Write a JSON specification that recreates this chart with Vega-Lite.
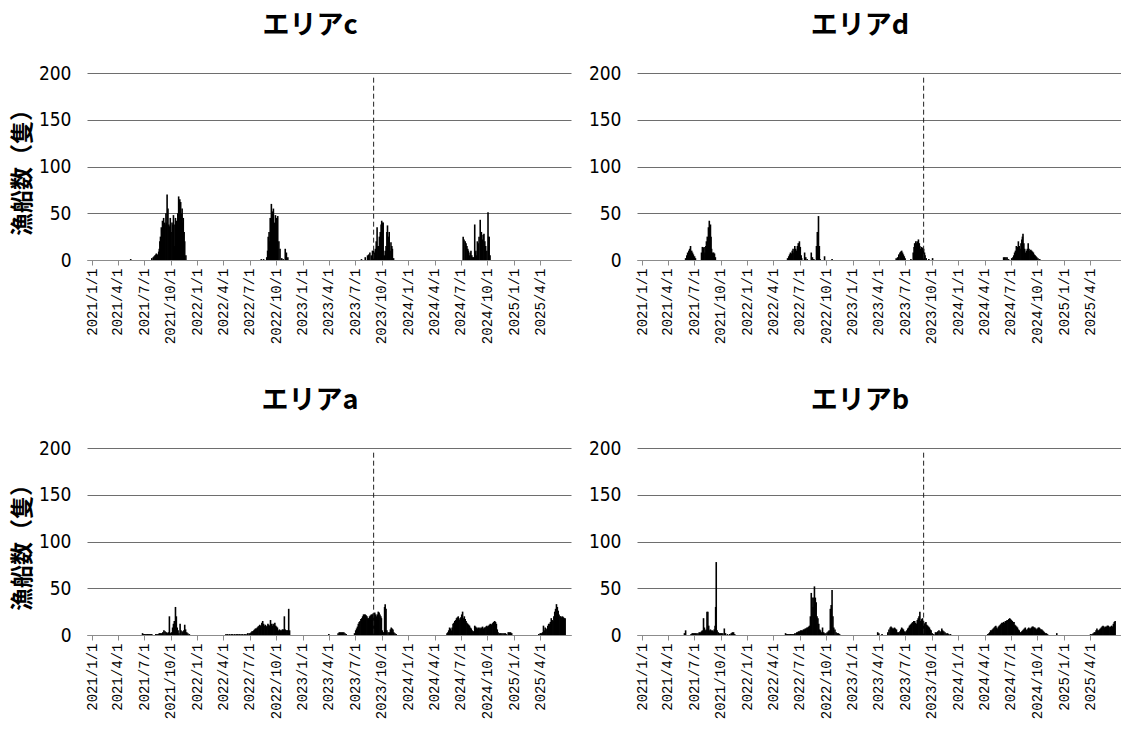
{
"$schema": "https://vega.github.io/schema/vega-lite/v6.json",
"padding": {"left": 11, "top": 12, "right": 0, "bottom": 0},
"background": "white",
"datasets": {
"ships": [
{"a":"c","d":"2021-05-15","n":1},{"a":"c","d":"2021-07-27","n":2},{"a":"c","d":"2021-08-01","n":3},{"a":"c","d":"2021-08-04","n":4},{"a":"c","d":"2021-08-07","n":5},{"a":"c","d":"2021-08-10","n":6},{"a":"c","d":"2021-08-12","n":7},{"a":"c","d":"2021-08-15","n":6},{"a":"c","d":"2021-08-18","n":5},{"a":"c","d":"2021-08-20","n":9},{"a":"c","d":"2021-08-22","n":12},{"a":"c","d":"2021-08-24","n":20},{"a":"c","d":"2021-08-26","n":25},{"a":"c","d":"2021-08-29","n":35},{"a":"c","d":"2021-08-31","n":30},{"a":"c","d":"2021-09-02","n":42},{"a":"c","d":"2021-09-04","n":38},{"a":"c","d":"2021-09-06","n":45},{"a":"c","d":"2021-09-09","n":40},{"a":"c","d":"2021-09-11","n":38},{"a":"c","d":"2021-09-14","n":50},{"a":"c","d":"2021-09-16","n":40},{"a":"c","d":"2021-09-18","n":70},{"a":"c","d":"2021-09-21","n":55},{"a":"c","d":"2021-09-24","n":38},{"a":"c","d":"2021-09-27","n":36},{"a":"c","d":"2021-09-29","n":45},{"a":"c","d":"2021-10-02","n":30},{"a":"c","d":"2021-10-05","n":40},{"a":"c","d":"2021-10-08","n":38},{"a":"c","d":"2021-10-10","n":48},{"a":"c","d":"2021-10-13","n":15},{"a":"c","d":"2021-10-15","n":38},{"a":"c","d":"2021-10-17","n":45},{"a":"c","d":"2021-10-19","n":36},{"a":"c","d":"2021-10-21","n":42},{"a":"c","d":"2021-10-23","n":35},{"a":"c","d":"2021-10-25","n":50},{"a":"c","d":"2021-10-28","n":68},{"a":"c","d":"2021-10-30","n":45},{"a":"c","d":"2021-11-01","n":65},{"a":"c","d":"2021-11-04","n":62},{"a":"c","d":"2021-11-07","n":50},{"a":"c","d":"2021-11-09","n":55},{"a":"c","d":"2021-11-11","n":40},{"a":"c","d":"2021-11-13","n":45},{"a":"c","d":"2021-11-16","n":30},{"a":"c","d":"2021-11-18","n":20},{"a":"c","d":"2021-11-22","n":5},
{"a":"c","d":"2022-08-10","n":1},{"a":"c","d":"2022-08-18","n":1},{"a":"c","d":"2022-08-29","n":3},{"a":"c","d":"2022-09-01","n":10},{"a":"c","d":"2022-09-03","n":25},{"a":"c","d":"2022-09-06","n":30},{"a":"c","d":"2022-09-08","n":20},{"a":"c","d":"2022-09-10","n":45},{"a":"c","d":"2022-09-12","n":30},{"a":"c","d":"2022-09-14","n":60},{"a":"c","d":"2022-09-17","n":52},{"a":"c","d":"2022-09-19","n":35},{"a":"c","d":"2022-09-21","n":55},{"a":"c","d":"2022-09-24","n":40},{"a":"c","d":"2022-09-26","n":30},{"a":"c","d":"2022-09-28","n":48},{"a":"c","d":"2022-10-02","n":45},{"a":"c","d":"2022-10-04","n":30},{"a":"c","d":"2022-10-06","n":47},{"a":"c","d":"2022-10-10","n":20},{"a":"c","d":"2022-10-14","n":12},{"a":"c","d":"2022-10-20","n":2},{"a":"c","d":"2022-10-25","n":1},{"a":"c","d":"2022-11-01","n":12},{"a":"c","d":"2022-11-05","n":8},{"a":"c","d":"2022-11-10","n":3},
{"a":"c","d":"2023-07-23","n":1},{"a":"c","d":"2023-08-05","n":3},{"a":"c","d":"2023-08-13","n":5},{"a":"c","d":"2023-08-17","n":6},{"a":"c","d":"2023-08-21","n":8},{"a":"c","d":"2023-08-26","n":5},{"a":"c","d":"2023-08-30","n":10},{"a":"c","d":"2023-09-03","n":10},{"a":"c","d":"2023-09-06","n":8},{"a":"c","d":"2023-09-09","n":12},{"a":"c","d":"2023-09-12","n":20},{"a":"c","d":"2023-09-15","n":35},{"a":"c","d":"2023-09-18","n":15},{"a":"c","d":"2023-09-20","n":15},{"a":"c","d":"2023-09-23","n":25},{"a":"c","d":"2023-09-26","n":30},{"a":"c","d":"2023-09-29","n":38},{"a":"c","d":"2023-10-01","n":42},{"a":"c","d":"2023-10-04","n":40},{"a":"c","d":"2023-10-06","n":40},{"a":"c","d":"2023-10-10","n":5},{"a":"c","d":"2023-10-13","n":10},{"a":"c","d":"2023-10-16","n":15},{"a":"c","d":"2023-10-19","n":30},{"a":"c","d":"2023-10-21","n":37},{"a":"c","d":"2023-10-24","n":25},{"a":"c","d":"2023-10-27","n":30},{"a":"c","d":"2023-10-30","n":10},{"a":"c","d":"2023-11-02","n":19},{"a":"c","d":"2023-11-05","n":15},{"a":"c","d":"2023-11-07","n":12},{"a":"c","d":"2023-11-11","n":2},
{"a":"c","d":"2024-07-09","n":25},{"a":"c","d":"2024-07-12","n":22},{"a":"c","d":"2024-07-16","n":20},{"a":"c","d":"2024-07-19","n":18},{"a":"c","d":"2024-07-22","n":15},{"a":"c","d":"2024-07-25","n":12},{"a":"c","d":"2024-07-27","n":10},{"a":"c","d":"2024-07-30","n":5},{"a":"c","d":"2024-08-02","n":8},{"a":"c","d":"2024-08-05","n":10},{"a":"c","d":"2024-08-08","n":5},{"a":"c","d":"2024-08-11","n":3},{"a":"c","d":"2024-08-14","n":3},{"a":"c","d":"2024-08-18","n":38},{"a":"c","d":"2024-08-20","n":8},{"a":"c","d":"2024-08-22","n":10},{"a":"c","d":"2024-08-25","n":5},{"a":"c","d":"2024-08-27","n":20},{"a":"c","d":"2024-08-30","n":18},{"a":"c","d":"2024-09-02","n":25},{"a":"c","d":"2024-09-06","n":43},{"a":"c","d":"2024-09-08","n":20},{"a":"c","d":"2024-09-10","n":30},{"a":"c","d":"2024-09-13","n":22},{"a":"c","d":"2024-09-16","n":27},{"a":"c","d":"2024-09-19","n":28},{"a":"c","d":"2024-09-22","n":20},{"a":"c","d":"2024-09-25","n":15},{"a":"c","d":"2024-09-29","n":10},{"a":"c","d":"2024-10-03","n":51},{"a":"c","d":"2024-10-05","n":25},{"a":"c","d":"2024-10-07","n":25},{"a":"c","d":"2024-10-10","n":5},
{"a":"d","d":"2021-06-01","n":2},{"a":"d","d":"2021-06-05","n":5},{"a":"d","d":"2021-06-08","n":8},{"a":"d","d":"2021-06-12","n":10},{"a":"d","d":"2021-06-15","n":12},{"a":"d","d":"2021-06-18","n":15},{"a":"d","d":"2021-06-22","n":10},{"a":"d","d":"2021-06-25","n":8},{"a":"d","d":"2021-06-28","n":6},{"a":"d","d":"2021-07-02","n":4},{"a":"d","d":"2021-07-05","n":2},{"a":"d","d":"2021-07-26","n":8},{"a":"d","d":"2021-07-29","n":14},{"a":"d","d":"2021-08-01","n":13},{"a":"d","d":"2021-08-04","n":14},{"a":"d","d":"2021-08-07","n":8},{"a":"d","d":"2021-08-10","n":15},{"a":"d","d":"2021-08-12","n":20},{"a":"d","d":"2021-08-15","n":25},{"a":"d","d":"2021-08-19","n":35},{"a":"d","d":"2021-08-22","n":42},{"a":"d","d":"2021-08-24","n":30},{"a":"d","d":"2021-08-26","n":38},{"a":"d","d":"2021-08-28","n":25},{"a":"d","d":"2021-08-30","n":12},{"a":"d","d":"2021-09-03","n":8},{"a":"d","d":"2021-09-06","n":8},{"a":"d","d":"2021-09-09","n":7},{"a":"d","d":"2021-09-12","n":3},
{"a":"d","d":"2022-05-20","n":2},{"a":"d","d":"2022-05-24","n":4},{"a":"d","d":"2022-05-27","n":6},{"a":"d","d":"2022-05-30","n":8},{"a":"d","d":"2022-06-02","n":7},{"a":"d","d":"2022-06-05","n":10},{"a":"d","d":"2022-06-08","n":12},{"a":"d","d":"2022-06-11","n":8},{"a":"d","d":"2022-06-14","n":15},{"a":"d","d":"2022-06-17","n":12},{"a":"d","d":"2022-06-20","n":10},{"a":"d","d":"2022-06-23","n":15},{"a":"d","d":"2022-06-26","n":18},{"a":"d","d":"2022-06-30","n":20},{"a":"d","d":"2022-07-03","n":14},{"a":"d","d":"2022-07-06","n":5},{"a":"d","d":"2022-07-08","n":2},{"a":"d","d":"2022-07-18","n":8},{"a":"d","d":"2022-07-22","n":3},{"a":"d","d":"2022-07-27","n":1},{"a":"d","d":"2022-08-10","n":8},{"a":"d","d":"2022-08-14","n":3},{"a":"d","d":"2022-08-19","n":1},{"a":"d","d":"2022-08-28","n":15},{"a":"d","d":"2022-08-31","n":30},{"a":"d","d":"2022-09-04","n":47},{"a":"d","d":"2022-09-07","n":15},{"a":"d","d":"2022-09-10","n":1},{"a":"d","d":"2022-09-25","n":4},{"a":"d","d":"2022-10-21","n":1},
{"a":"d","d":"2023-05-31","n":2},{"a":"d","d":"2023-06-05","n":3},{"a":"d","d":"2023-06-09","n":6},{"a":"d","d":"2023-06-13","n":8},{"a":"d","d":"2023-06-16","n":9},{"a":"d","d":"2023-06-19","n":10},{"a":"d","d":"2023-06-22","n":8},{"a":"d","d":"2023-06-25","n":6},{"a":"d","d":"2023-06-28","n":4},{"a":"d","d":"2023-07-01","n":2},{"a":"d","d":"2023-07-21","n":1},{"a":"d","d":"2023-07-29","n":8},{"a":"d","d":"2023-08-01","n":14},{"a":"d","d":"2023-08-03","n":18},{"a":"d","d":"2023-08-05","n":15},{"a":"d","d":"2023-08-07","n":20},{"a":"d","d":"2023-08-10","n":18},{"a":"d","d":"2023-08-12","n":20},{"a":"d","d":"2023-08-14","n":17},{"a":"d","d":"2023-08-16","n":22},{"a":"d","d":"2023-08-19","n":18},{"a":"d","d":"2023-08-21","n":15},{"a":"d","d":"2023-08-24","n":12},{"a":"d","d":"2023-08-27","n":14},{"a":"d","d":"2023-08-30","n":13},{"a":"d","d":"2023-09-03","n":12},{"a":"d","d":"2023-09-06","n":8},{"a":"d","d":"2023-09-08","n":5},{"a":"d","d":"2023-09-12","n":2},{"a":"d","d":"2023-09-21","n":1},{"a":"d","d":"2023-10-04","n":2},
{"a":"d","d":"2024-06-06","n":3},{"a":"d","d":"2024-06-10","n":3},{"a":"d","d":"2024-06-14","n":3},{"a":"d","d":"2024-06-18","n":3},{"a":"d","d":"2024-06-23","n":1},{"a":"d","d":"2024-07-04","n":2},{"a":"d","d":"2024-07-08","n":3},{"a":"d","d":"2024-07-11","n":5},{"a":"d","d":"2024-07-14","n":8},{"a":"d","d":"2024-07-17","n":10},{"a":"d","d":"2024-07-20","n":15},{"a":"d","d":"2024-07-24","n":14},{"a":"d","d":"2024-07-27","n":20},{"a":"d","d":"2024-07-30","n":15},{"a":"d","d":"2024-08-02","n":12},{"a":"d","d":"2024-08-05","n":18},{"a":"d","d":"2024-08-08","n":22},{"a":"d","d":"2024-08-10","n":25},{"a":"d","d":"2024-08-12","n":28},{"a":"d","d":"2024-08-15","n":18},{"a":"d","d":"2024-08-18","n":12},{"a":"d","d":"2024-08-21","n":8},{"a":"d","d":"2024-08-24","n":10},{"a":"d","d":"2024-08-27","n":12},{"a":"d","d":"2024-08-30","n":18},{"a":"d","d":"2024-09-02","n":12},{"a":"d","d":"2024-09-05","n":10},{"a":"d","d":"2024-09-08","n":11},{"a":"d","d":"2024-09-11","n":10},{"a":"d","d":"2024-09-14","n":9},{"a":"d","d":"2024-09-17","n":8},{"a":"d","d":"2024-09-20","n":6},{"a":"d","d":"2024-09-23","n":5},{"a":"d","d":"2024-09-26","n":4},{"a":"d","d":"2024-09-29","n":3},{"a":"d","d":"2024-10-03","n":2},{"a":"d","d":"2024-10-09","n":1},
{"a":"a","d":"2021-06-25","n":2},{"a":"a","d":"2021-06-29","n":1},{"a":"a","d":"2021-07-03","n":1},{"a":"a","d":"2021-07-07","n":1},{"a":"a","d":"2021-07-11","n":1},{"a":"a","d":"2021-07-15","n":1},{"a":"a","d":"2021-07-19","n":1},{"a":"a","d":"2021-07-23","n":1},{"a":"a","d":"2021-07-27","n":1},{"a":"a","d":"2021-08-10","n":1},{"a":"a","d":"2021-08-14","n":1},{"a":"a","d":"2021-08-18","n":1},{"a":"a","d":"2021-08-22","n":2},{"a":"a","d":"2021-08-26","n":2},{"a":"a","d":"2021-08-30","n":2},{"a":"a","d":"2021-09-03","n":3},{"a":"a","d":"2021-09-07","n":5},{"a":"a","d":"2021-09-11","n":4},{"a":"a","d":"2021-09-15","n":3},{"a":"a","d":"2021-09-19","n":2},{"a":"a","d":"2021-09-22","n":3},{"a":"a","d":"2021-09-26","n":20},{"a":"a","d":"2021-09-29","n":2},{"a":"a","d":"2021-10-03","n":3},{"a":"a","d":"2021-10-07","n":8},{"a":"a","d":"2021-10-10","n":12},{"a":"a","d":"2021-10-13","n":15},{"a":"a","d":"2021-10-17","n":30},{"a":"a","d":"2021-10-20","n":20},{"a":"a","d":"2021-10-23","n":8},{"a":"a","d":"2021-10-26","n":5},{"a":"a","d":"2021-10-29","n":2},{"a":"a","d":"2021-11-02","n":12},{"a":"a","d":"2021-11-05","n":5},{"a":"a","d":"2021-11-09","n":4},{"a":"a","d":"2021-11-12","n":3},{"a":"a","d":"2021-11-15","n":5},{"a":"a","d":"2021-11-18","n":11},{"a":"a","d":"2021-11-21","n":6},{"a":"a","d":"2021-11-25","n":3},{"a":"a","d":"2021-11-29","n":2},{"a":"a","d":"2021-12-04","n":1},
{"a":"a","d":"2022-04-10","n":1},{"a":"a","d":"2022-04-16","n":1},{"a":"a","d":"2022-04-22","n":1},{"a":"a","d":"2022-04-28","n":1},{"a":"a","d":"2022-05-03","n":1},{"a":"a","d":"2022-05-09","n":1},{"a":"a","d":"2022-05-15","n":1},{"a":"a","d":"2022-05-21","n":1},{"a":"a","d":"2022-05-26","n":1},{"a":"a","d":"2022-06-01","n":1},{"a":"a","d":"2022-06-07","n":1},{"a":"a","d":"2022-06-13","n":1},{"a":"a","d":"2022-06-18","n":1},{"a":"a","d":"2022-06-24","n":2},{"a":"a","d":"2022-06-29","n":2},{"a":"a","d":"2022-07-03","n":2},{"a":"a","d":"2022-07-06","n":3},{"a":"a","d":"2022-07-09","n":4},{"a":"a","d":"2022-07-12","n":4},{"a":"a","d":"2022-07-15","n":5},{"a":"a","d":"2022-07-18","n":6},{"a":"a","d":"2022-07-21","n":7},{"a":"a","d":"2022-07-24","n":7},{"a":"a","d":"2022-07-27","n":8},{"a":"a","d":"2022-07-30","n":9},{"a":"a","d":"2022-08-02","n":10},{"a":"a","d":"2022-08-05","n":11},{"a":"a","d":"2022-08-08","n":10},{"a":"a","d":"2022-08-12","n":13},{"a":"a","d":"2022-08-15","n":15},{"a":"a","d":"2022-08-18","n":12},{"a":"a","d":"2022-08-20","n":10},{"a":"a","d":"2022-08-24","n":11},{"a":"a","d":"2022-08-27","n":9},{"a":"a","d":"2022-08-30","n":10},{"a":"a","d":"2022-09-02","n":12},{"a":"a","d":"2022-09-05","n":11},{"a":"a","d":"2022-09-08","n":10},{"a":"a","d":"2022-09-11","n":16},{"a":"a","d":"2022-09-14","n":12},{"a":"a","d":"2022-09-17","n":10},{"a":"a","d":"2022-09-20","n":12},{"a":"a","d":"2022-09-23","n":11},{"a":"a","d":"2022-09-26","n":13},{"a":"a","d":"2022-09-29","n":10},{"a":"a","d":"2022-10-02","n":9},{"a":"a","d":"2022-10-05","n":8},{"a":"a","d":"2022-10-08","n":5},{"a":"a","d":"2022-10-12","n":6},{"a":"a","d":"2022-10-15","n":5},{"a":"a","d":"2022-10-18","n":5},{"a":"a","d":"2022-10-22","n":6},{"a":"a","d":"2022-10-25","n":6},{"a":"a","d":"2022-10-29","n":20},{"a":"a","d":"2022-11-01","n":6},{"a":"a","d":"2022-11-04","n":5},{"a":"a","d":"2022-11-07","n":5},{"a":"a","d":"2022-11-10","n":5},{"a":"a","d":"2022-11-13","n":28},{"a":"a","d":"2022-11-16","n":5},
{"a":"a","d":"2023-04-01","n":1},{"a":"a","d":"2023-05-03","n":2},{"a":"a","d":"2023-05-07","n":3},{"a":"a","d":"2023-05-11","n":3},{"a":"a","d":"2023-05-15","n":3},{"a":"a","d":"2023-05-19","n":3},{"a":"a","d":"2023-05-23","n":3},{"a":"a","d":"2023-05-27","n":2},{"a":"a","d":"2023-05-31","n":1},{"a":"a","d":"2023-06-29","n":2},{"a":"a","d":"2023-07-03","n":5},{"a":"a","d":"2023-07-06","n":7},{"a":"a","d":"2023-07-09","n":9},{"a":"a","d":"2023-07-12","n":12},{"a":"a","d":"2023-07-15","n":14},{"a":"a","d":"2023-07-18","n":15},{"a":"a","d":"2023-07-21","n":17},{"a":"a","d":"2023-07-24","n":18},{"a":"a","d":"2023-07-27","n":20},{"a":"a","d":"2023-07-30","n":22},{"a":"a","d":"2023-08-02","n":22},{"a":"a","d":"2023-08-05","n":22},{"a":"a","d":"2023-08-08","n":21},{"a":"a","d":"2023-08-11","n":20},{"a":"a","d":"2023-08-14","n":18},{"a":"a","d":"2023-08-17","n":18},{"a":"a","d":"2023-08-20","n":20},{"a":"a","d":"2023-08-23","n":21},{"a":"a","d":"2023-08-26","n":22},{"a":"a","d":"2023-08-29","n":22},{"a":"a","d":"2023-09-01","n":23},{"a":"a","d":"2023-09-04","n":22},{"a":"a","d":"2023-09-07","n":24},{"a":"a","d":"2023-09-10","n":22},{"a":"a","d":"2023-09-13","n":20},{"a":"a","d":"2023-09-16","n":22},{"a":"a","d":"2023-09-19","n":25},{"a":"a","d":"2023-09-22","n":24},{"a":"a","d":"2023-09-25","n":22},{"a":"a","d":"2023-09-28","n":20},{"a":"a","d":"2023-09-30","n":18},{"a":"a","d":"2023-10-03","n":5},{"a":"a","d":"2023-10-06","n":3},{"a":"a","d":"2023-10-09","n":3},{"a":"a","d":"2023-10-11","n":30},{"a":"a","d":"2023-10-13","n":33},{"a":"a","d":"2023-10-16","n":28},{"a":"a","d":"2023-10-19","n":5},{"a":"a","d":"2023-10-23","n":3},{"a":"a","d":"2023-10-27","n":3},{"a":"a","d":"2023-10-31","n":6},{"a":"a","d":"2023-11-03","n":8},{"a":"a","d":"2023-11-06","n":7},{"a":"a","d":"2023-11-09","n":6},{"a":"a","d":"2023-11-12","n":3},{"a":"a","d":"2023-11-16","n":2},{"a":"a","d":"2023-11-20","n":1},
{"a":"a","d":"2024-05-14","n":2},{"a":"a","d":"2024-05-17","n":3},{"a":"a","d":"2024-05-20","n":5},{"a":"a","d":"2024-05-23","n":8},{"a":"a","d":"2024-05-26","n":7},{"a":"a","d":"2024-05-29","n":5},{"a":"a","d":"2024-06-01","n":8},{"a":"a","d":"2024-06-04","n":12},{"a":"a","d":"2024-06-07","n":13},{"a":"a","d":"2024-06-10","n":15},{"a":"a","d":"2024-06-13","n":16},{"a":"a","d":"2024-06-16","n":18},{"a":"a","d":"2024-06-19","n":19},{"a":"a","d":"2024-06-22","n":20},{"a":"a","d":"2024-06-25","n":16},{"a":"a","d":"2024-06-28","n":18},{"a":"a","d":"2024-07-01","n":19},{"a":"a","d":"2024-07-04","n":22},{"a":"a","d":"2024-07-07","n":25},{"a":"a","d":"2024-07-10","n":18},{"a":"a","d":"2024-07-13","n":20},{"a":"a","d":"2024-07-16","n":17},{"a":"a","d":"2024-07-19","n":15},{"a":"a","d":"2024-07-22","n":13},{"a":"a","d":"2024-07-25","n":12},{"a":"a","d":"2024-07-28","n":11},{"a":"a","d":"2024-07-31","n":10},{"a":"a","d":"2024-08-03","n":8},{"a":"a","d":"2024-08-06","n":7},{"a":"a","d":"2024-08-09","n":5},{"a":"a","d":"2024-08-12","n":4},{"a":"a","d":"2024-08-15","n":4},{"a":"a","d":"2024-08-18","n":10},{"a":"a","d":"2024-08-21","n":9},{"a":"a","d":"2024-08-24","n":8},{"a":"a","d":"2024-08-27","n":7},{"a":"a","d":"2024-08-30","n":8},{"a":"a","d":"2024-09-02","n":7},{"a":"a","d":"2024-09-05","n":8},{"a":"a","d":"2024-09-08","n":7},{"a":"a","d":"2024-09-11","n":8},{"a":"a","d":"2024-09-14","n":9},{"a":"a","d":"2024-09-17","n":7},{"a":"a","d":"2024-09-20","n":8},{"a":"a","d":"2024-09-23","n":8},{"a":"a","d":"2024-09-26","n":9},{"a":"a","d":"2024-09-29","n":10},{"a":"a","d":"2024-10-02","n":9},{"a":"a","d":"2024-10-05","n":10},{"a":"a","d":"2024-10-08","n":11},{"a":"a","d":"2024-10-11","n":12},{"a":"a","d":"2024-10-14","n":11},{"a":"a","d":"2024-10-17","n":12},{"a":"a","d":"2024-10-20","n":13},{"a":"a","d":"2024-10-23","n":14},{"a":"a","d":"2024-10-26","n":15},{"a":"a","d":"2024-10-29","n":14},{"a":"a","d":"2024-11-01","n":12},{"a":"a","d":"2024-11-04","n":6},{"a":"a","d":"2024-11-07","n":3},{"a":"a","d":"2024-11-12","n":2},{"a":"a","d":"2024-11-16","n":2},{"a":"a","d":"2024-11-20","n":2},{"a":"a","d":"2024-11-24","n":2},{"a":"a","d":"2024-11-28","n":2},{"a":"a","d":"2024-12-02","n":2},{"a":"a","d":"2024-12-06","n":1},{"a":"a","d":"2024-12-12","n":3},{"a":"a","d":"2024-12-16","n":3},{"a":"a","d":"2024-12-20","n":3},{"a":"a","d":"2024-12-24","n":2},
{"a":"a","d":"2025-03-28","n":1},{"a":"a","d":"2025-04-02","n":2},{"a":"a","d":"2025-04-06","n":2},{"a":"a","d":"2025-04-10","n":3},{"a":"a","d":"2025-04-13","n":10},{"a":"a","d":"2025-04-16","n":5},{"a":"a","d":"2025-04-19","n":8},{"a":"a","d":"2025-04-22","n":6},{"a":"a","d":"2025-04-25","n":7},{"a":"a","d":"2025-04-28","n":10},{"a":"a","d":"2025-05-01","n":12},{"a":"a","d":"2025-05-04","n":12},{"a":"a","d":"2025-05-07","n":14},{"a":"a","d":"2025-05-10","n":18},{"a":"a","d":"2025-05-13","n":16},{"a":"a","d":"2025-05-16","n":15},{"a":"a","d":"2025-05-19","n":20},{"a":"a","d":"2025-05-22","n":25},{"a":"a","d":"2025-05-25","n":28},{"a":"a","d":"2025-05-28","n":33},{"a":"a","d":"2025-05-31","n":30},{"a":"a","d":"2025-06-03","n":26},{"a":"a","d":"2025-06-06","n":22},{"a":"a","d":"2025-06-09","n":20},{"a":"a","d":"2025-06-12","n":20},{"a":"a","d":"2025-06-15","n":19},{"a":"a","d":"2025-06-18","n":20},{"a":"a","d":"2025-06-21","n":19},{"a":"a","d":"2025-06-24","n":18},{"a":"a","d":"2025-06-27","n":18},
{"a":"b","d":"2021-05-28","n":2},{"a":"b","d":"2021-06-01","n":5},{"a":"b","d":"2021-06-20","n":1},{"a":"b","d":"2021-06-24","n":2},{"a":"b","d":"2021-06-28","n":2},{"a":"b","d":"2021-07-02","n":2},{"a":"b","d":"2021-07-06","n":2},{"a":"b","d":"2021-07-10","n":2},{"a":"b","d":"2021-07-14","n":2},{"a":"b","d":"2021-07-18","n":3},{"a":"b","d":"2021-07-22","n":3},{"a":"b","d":"2021-07-26","n":4},{"a":"b","d":"2021-07-29","n":5},{"a":"b","d":"2021-08-02","n":18},{"a":"b","d":"2021-08-05","n":8},{"a":"b","d":"2021-08-08","n":5},{"a":"b","d":"2021-08-11","n":6},{"a":"b","d":"2021-08-14","n":25},{"a":"b","d":"2021-08-17","n":25},{"a":"b","d":"2021-08-20","n":10},{"a":"b","d":"2021-08-23","n":5},{"a":"b","d":"2021-08-26","n":6},{"a":"b","d":"2021-08-29","n":5},{"a":"b","d":"2021-09-02","n":5},{"a":"b","d":"2021-09-05","n":4},{"a":"b","d":"2021-09-08","n":6},{"a":"b","d":"2021-09-11","n":10},{"a":"b","d":"2021-09-13","n":30},{"a":"b","d":"2021-09-15","n":78},{"a":"b","d":"2021-09-18","n":5},{"a":"b","d":"2021-09-22","n":3},{"a":"b","d":"2021-09-26","n":2},{"a":"b","d":"2021-09-30","n":2},{"a":"b","d":"2021-10-04","n":2},{"a":"b","d":"2021-10-08","n":2},{"a":"b","d":"2021-10-13","n":7},{"a":"b","d":"2021-10-17","n":2},{"a":"b","d":"2021-10-24","n":1},{"a":"b","d":"2021-11-01","n":1},{"a":"b","d":"2021-11-06","n":2},{"a":"b","d":"2021-11-10","n":3},{"a":"b","d":"2021-11-14","n":3},{"a":"b","d":"2021-11-18","n":1},
{"a":"b","d":"2022-05-13","n":2},{"a":"b","d":"2022-05-17","n":1},{"a":"b","d":"2022-05-21","n":1},{"a":"b","d":"2022-05-25","n":1},{"a":"b","d":"2022-05-29","n":1},{"a":"b","d":"2022-06-02","n":1},{"a":"b","d":"2022-06-06","n":1},{"a":"b","d":"2022-06-10","n":1},{"a":"b","d":"2022-06-14","n":2},{"a":"b","d":"2022-06-18","n":2},{"a":"b","d":"2022-06-21","n":3},{"a":"b","d":"2022-06-24","n":3},{"a":"b","d":"2022-06-27","n":4},{"a":"b","d":"2022-07-01","n":4},{"a":"b","d":"2022-07-04","n":5},{"a":"b","d":"2022-07-07","n":5},{"a":"b","d":"2022-07-10","n":5},{"a":"b","d":"2022-07-14","n":6},{"a":"b","d":"2022-07-17","n":6},{"a":"b","d":"2022-07-20","n":7},{"a":"b","d":"2022-07-23","n":7},{"a":"b","d":"2022-07-26","n":8},{"a":"b","d":"2022-07-29","n":8},{"a":"b","d":"2022-08-01","n":9},{"a":"b","d":"2022-08-04","n":10},{"a":"b","d":"2022-08-07","n":20},{"a":"b","d":"2022-08-10","n":45},{"a":"b","d":"2022-08-13","n":40},{"a":"b","d":"2022-08-16","n":30},{"a":"b","d":"2022-08-19","n":40},{"a":"b","d":"2022-08-21","n":52},{"a":"b","d":"2022-08-24","n":40},{"a":"b","d":"2022-08-27","n":35},{"a":"b","d":"2022-08-30","n":20},{"a":"b","d":"2022-09-02","n":18},{"a":"b","d":"2022-09-05","n":12},{"a":"b","d":"2022-09-08","n":6},{"a":"b","d":"2022-09-11","n":5},{"a":"b","d":"2022-09-14","n":3},{"a":"b","d":"2022-09-18","n":8},{"a":"b","d":"2022-09-22","n":3},{"a":"b","d":"2022-09-26","n":2},{"a":"b","d":"2022-09-30","n":2},{"a":"b","d":"2022-10-04","n":3},{"a":"b","d":"2022-10-08","n":4},{"a":"b","d":"2022-10-11","n":5},{"a":"b","d":"2022-10-15","n":28},{"a":"b","d":"2022-10-18","n":32},{"a":"b","d":"2022-10-21","n":48},{"a":"b","d":"2022-10-24","n":20},{"a":"b","d":"2022-10-27","n":8},{"a":"b","d":"2022-10-31","n":6},{"a":"b","d":"2022-11-04","n":3},{"a":"b","d":"2022-11-08","n":2},{"a":"b","d":"2022-11-12","n":2},{"a":"b","d":"2022-11-16","n":1},
{"a":"b","d":"2023-03-28","n":3},{"a":"b","d":"2023-04-01","n":2},{"a":"b","d":"2023-04-12","n":1},{"a":"b","d":"2023-05-02","n":3},{"a":"b","d":"2023-05-06","n":6},{"a":"b","d":"2023-05-10","n":8},{"a":"b","d":"2023-05-13","n":9},{"a":"b","d":"2023-05-16","n":8},{"a":"b","d":"2023-05-19","n":7},{"a":"b","d":"2023-05-22","n":7},{"a":"b","d":"2023-05-25","n":8},{"a":"b","d":"2023-05-28","n":7},{"a":"b","d":"2023-06-01","n":6},{"a":"b","d":"2023-06-05","n":3},{"a":"b","d":"2023-06-09","n":3},{"a":"b","d":"2023-06-13","n":4},{"a":"b","d":"2023-06-16","n":6},{"a":"b","d":"2023-06-19","n":8},{"a":"b","d":"2023-06-22","n":7},{"a":"b","d":"2023-06-25","n":6},{"a":"b","d":"2023-06-28","n":4},{"a":"b","d":"2023-07-01","n":3},{"a":"b","d":"2023-07-04","n":4},{"a":"b","d":"2023-07-07","n":5},{"a":"b","d":"2023-07-10","n":7},{"a":"b","d":"2023-07-13","n":8},{"a":"b","d":"2023-07-16","n":10},{"a":"b","d":"2023-07-19","n":11},{"a":"b","d":"2023-07-22","n":12},{"a":"b","d":"2023-07-25","n":13},{"a":"b","d":"2023-07-28","n":14},{"a":"b","d":"2023-07-31","n":15},{"a":"b","d":"2023-08-03","n":15},{"a":"b","d":"2023-08-06","n":13},{"a":"b","d":"2023-08-09","n":12},{"a":"b","d":"2023-08-12","n":16},{"a":"b","d":"2023-08-15","n":18},{"a":"b","d":"2023-08-18","n":20},{"a":"b","d":"2023-08-21","n":25},{"a":"b","d":"2023-08-24","n":15},{"a":"b","d":"2023-08-27","n":17},{"a":"b","d":"2023-08-30","n":18},{"a":"b","d":"2023-09-02","n":15},{"a":"b","d":"2023-09-05","n":12},{"a":"b","d":"2023-09-08","n":13},{"a":"b","d":"2023-09-11","n":14},{"a":"b","d":"2023-09-14","n":11},{"a":"b","d":"2023-09-17","n":10},{"a":"b","d":"2023-09-20","n":9},{"a":"b","d":"2023-09-23","n":8},{"a":"b","d":"2023-09-26","n":6},{"a":"b","d":"2023-09-29","n":5},{"a":"b","d":"2023-10-03","n":2},{"a":"b","d":"2023-10-08","n":1},{"a":"b","d":"2023-10-14","n":3},{"a":"b","d":"2023-10-18","n":3},{"a":"b","d":"2023-10-22","n":4},{"a":"b","d":"2023-10-26","n":5},{"a":"b","d":"2023-10-30","n":4},{"a":"b","d":"2023-11-02","n":3},{"a":"b","d":"2023-11-05","n":7},{"a":"b","d":"2023-11-08","n":5},{"a":"b","d":"2023-11-12","n":4},{"a":"b","d":"2023-11-16","n":3},{"a":"b","d":"2023-11-20","n":2},{"a":"b","d":"2023-11-25","n":2},{"a":"b","d":"2023-11-29","n":1},{"a":"b","d":"2023-12-05","n":1},
{"a":"b","d":"2024-04-12","n":1},{"a":"b","d":"2024-04-16","n":2},{"a":"b","d":"2024-04-19","n":3},{"a":"b","d":"2024-04-22","n":5},{"a":"b","d":"2024-04-25","n":5},{"a":"b","d":"2024-04-28","n":6},{"a":"b","d":"2024-05-01","n":7},{"a":"b","d":"2024-05-04","n":8},{"a":"b","d":"2024-05-07","n":9},{"a":"b","d":"2024-05-10","n":10},{"a":"b","d":"2024-05-13","n":8},{"a":"b","d":"2024-05-16","n":7},{"a":"b","d":"2024-05-19","n":9},{"a":"b","d":"2024-05-22","n":10},{"a":"b","d":"2024-05-25","n":11},{"a":"b","d":"2024-05-28","n":12},{"a":"b","d":"2024-05-31","n":13},{"a":"b","d":"2024-06-03","n":13},{"a":"b","d":"2024-06-06","n":14},{"a":"b","d":"2024-06-09","n":13},{"a":"b","d":"2024-06-12","n":15},{"a":"b","d":"2024-06-15","n":15},{"a":"b","d":"2024-06-18","n":16},{"a":"b","d":"2024-06-21","n":16},{"a":"b","d":"2024-06-24","n":17},{"a":"b","d":"2024-06-27","n":18},{"a":"b","d":"2024-06-30","n":17},{"a":"b","d":"2024-07-03","n":16},{"a":"b","d":"2024-07-06","n":15},{"a":"b","d":"2024-07-09","n":14},{"a":"b","d":"2024-07-12","n":14},{"a":"b","d":"2024-07-15","n":11},{"a":"b","d":"2024-07-18","n":10},{"a":"b","d":"2024-07-21","n":9},{"a":"b","d":"2024-07-24","n":8},{"a":"b","d":"2024-07-27","n":6},{"a":"b","d":"2024-07-30","n":5},{"a":"b","d":"2024-08-02","n":3},{"a":"b","d":"2024-08-05","n":3},{"a":"b","d":"2024-08-08","n":4},{"a":"b","d":"2024-08-11","n":5},{"a":"b","d":"2024-08-14","n":6},{"a":"b","d":"2024-08-17","n":7},{"a":"b","d":"2024-08-20","n":8},{"a":"b","d":"2024-08-23","n":6},{"a":"b","d":"2024-08-26","n":5},{"a":"b","d":"2024-08-29","n":7},{"a":"b","d":"2024-09-01","n":8},{"a":"b","d":"2024-09-04","n":7},{"a":"b","d":"2024-09-07","n":7},{"a":"b","d":"2024-09-10","n":8},{"a":"b","d":"2024-09-13","n":9},{"a":"b","d":"2024-09-16","n":9},{"a":"b","d":"2024-09-19","n":8},{"a":"b","d":"2024-09-22","n":8},{"a":"b","d":"2024-09-25","n":7},{"a":"b","d":"2024-09-28","n":6},{"a":"b","d":"2024-10-01","n":7},{"a":"b","d":"2024-10-04","n":8},{"a":"b","d":"2024-10-07","n":8},{"a":"b","d":"2024-10-10","n":7},{"a":"b","d":"2024-10-13","n":6},{"a":"b","d":"2024-10-16","n":6},{"a":"b","d":"2024-10-19","n":5},{"a":"b","d":"2024-10-22","n":4},{"a":"b","d":"2024-10-25","n":3},{"a":"b","d":"2024-10-28","n":2},{"a":"b","d":"2024-11-01","n":2},{"a":"b","d":"2024-11-05","n":1},{"a":"b","d":"2024-12-07","n":2},
{"a":"b","d":"2025-04-03","n":1},{"a":"b","d":"2025-04-08","n":1},{"a":"b","d":"2025-04-12","n":2},{"a":"b","d":"2025-04-16","n":3},{"a":"b","d":"2025-04-19","n":3},{"a":"b","d":"2025-04-22","n":5},{"a":"b","d":"2025-04-25","n":7},{"a":"b","d":"2025-04-28","n":5},{"a":"b","d":"2025-05-01","n":5},{"a":"b","d":"2025-05-04","n":6},{"a":"b","d":"2025-05-07","n":7},{"a":"b","d":"2025-05-10","n":8},{"a":"b","d":"2025-05-13","n":9},{"a":"b","d":"2025-05-16","n":10},{"a":"b","d":"2025-05-19","n":9},{"a":"b","d":"2025-05-22","n":8},{"a":"b","d":"2025-05-25","n":9},{"a":"b","d":"2025-05-28","n":9},{"a":"b","d":"2025-05-31","n":10},{"a":"b","d":"2025-06-03","n":10},{"a":"b","d":"2025-06-06","n":9},{"a":"b","d":"2025-06-09","n":8},{"a":"b","d":"2025-06-12","n":9},{"a":"b","d":"2025-06-15","n":10},{"a":"b","d":"2025-06-18","n":9},{"a":"b","d":"2025-06-21","n":12},{"a":"b","d":"2025-06-24","n":14},{"a":"b","d":"2025-06-27","n":15}
],
"marker": [{"d":"2023-09-03","n":195}]
},
"columns": 2,
"spacing": {"row": 43, "column": 17},
"concat": [
{"title": "エリアc", "width": 484, "height": 187,
 "encoding": {
  "x": {"field": "d", "type": "temporal", "title": null,
    "scale": {"domain": [{"year": 2021, "month": 1, "date": 1}, {"year": 2025, "month": 6, "date": 30}]},
    "axis": {"format": "%Y/%-m/%-d", "labelOverlap": false, "labelFlush": false,
      "values": [{"year":2021,"month":1,"date":1},{"year":2021,"month":4,"date":1},{"year":2021,"month":7,"date":1},{"year":2021,"month":10,"date":1},{"year":2022,"month":1,"date":1},{"year":2022,"month":4,"date":1},{"year":2022,"month":7,"date":1},{"year":2022,"month":10,"date":1},{"year":2023,"month":1,"date":1},{"year":2023,"month":4,"date":1},{"year":2023,"month":7,"date":1},{"year":2023,"month":10,"date":1},{"year":2024,"month":1,"date":1},{"year":2024,"month":4,"date":1},{"year":2024,"month":7,"date":1},{"year":2024,"month":10,"date":1},{"year":2025,"month":1,"date":1},{"year":2025,"month":4,"date":1}]}},
  "y": {"field": "n", "type": "quantitative", "title": "漁船数（隻）", "scale": {"domain": [0, 200]}, "axis": {"values": [0, 50, 100, 150, 200]}}
 },
 "layer": [
  {"data": {"name": "ships"}, "transform": [{"filter": "datum.a === 'c'"}],
   "mark": {"type": "bar", "width": 1.6, "color": "#000"}},
  {"data": {"name": "marker"}, "mark": {"type": "rule", "strokeDash": [5, 3], "color": "#222", "strokeWidth": 1},
   "encoding": {"y2": {"datum": 0}}}
 ]},
{"title": "エリアd", "width": 484, "height": 187,
 "encoding": {
  "x": {"field": "d", "type": "temporal", "title": null,
    "scale": {"domain": [{"year": 2021, "month": 1, "date": 1}, {"year": 2025, "month": 6, "date": 30}]},
    "axis": {"format": "%Y/%-m/%-d", "labelOverlap": false, "labelFlush": false,
      "values": [{"year":2021,"month":1,"date":1},{"year":2021,"month":4,"date":1},{"year":2021,"month":7,"date":1},{"year":2021,"month":10,"date":1},{"year":2022,"month":1,"date":1},{"year":2022,"month":4,"date":1},{"year":2022,"month":7,"date":1},{"year":2022,"month":10,"date":1},{"year":2023,"month":1,"date":1},{"year":2023,"month":4,"date":1},{"year":2023,"month":7,"date":1},{"year":2023,"month":10,"date":1},{"year":2024,"month":1,"date":1},{"year":2024,"month":4,"date":1},{"year":2024,"month":7,"date":1},{"year":2024,"month":10,"date":1},{"year":2025,"month":1,"date":1},{"year":2025,"month":4,"date":1}]}},
  "y": {"field": "n", "type": "quantitative", "title": null, "scale": {"domain": [0, 200]}, "axis": {"values": [0, 50, 100, 150, 200]}}
 },
 "layer": [
  {"data": {"name": "ships"}, "transform": [{"filter": "datum.a === 'd'"}],
   "mark": {"type": "bar", "width": 1.6, "color": "#000"}},
  {"data": {"name": "marker"}, "mark": {"type": "rule", "strokeDash": [5, 3], "color": "#222", "strokeWidth": 1},
   "encoding": {"y2": {"datum": 0}}}
 ]},
{"title": "エリアa", "width": 484, "height": 187,
 "encoding": {
  "x": {"field": "d", "type": "temporal", "title": null,
    "scale": {"domain": [{"year": 2021, "month": 1, "date": 1}, {"year": 2025, "month": 6, "date": 30}]},
    "axis": {"format": "%Y/%-m/%-d", "labelOverlap": false, "labelFlush": false,
      "values": [{"year":2021,"month":1,"date":1},{"year":2021,"month":4,"date":1},{"year":2021,"month":7,"date":1},{"year":2021,"month":10,"date":1},{"year":2022,"month":1,"date":1},{"year":2022,"month":4,"date":1},{"year":2022,"month":7,"date":1},{"year":2022,"month":10,"date":1},{"year":2023,"month":1,"date":1},{"year":2023,"month":4,"date":1},{"year":2023,"month":7,"date":1},{"year":2023,"month":10,"date":1},{"year":2024,"month":1,"date":1},{"year":2024,"month":4,"date":1},{"year":2024,"month":7,"date":1},{"year":2024,"month":10,"date":1},{"year":2025,"month":1,"date":1},{"year":2025,"month":4,"date":1}]}},
  "y": {"field": "n", "type": "quantitative", "title": "漁船数（隻）", "scale": {"domain": [0, 200]}, "axis": {"values": [0, 50, 100, 150, 200]}}
 },
 "layer": [
  {"data": {"name": "ships"}, "transform": [{"filter": "datum.a === 'a'"}],
   "mark": {"type": "bar", "width": 1.6, "color": "#000"}},
  {"data": {"name": "marker"}, "mark": {"type": "rule", "strokeDash": [5, 3], "color": "#222", "strokeWidth": 1},
   "encoding": {"y2": {"datum": 0}}}
 ]},
{"title": "エリアb", "width": 484, "height": 187,
 "encoding": {
  "x": {"field": "d", "type": "temporal", "title": null,
    "scale": {"domain": [{"year": 2021, "month": 1, "date": 1}, {"year": 2025, "month": 6, "date": 30}]},
    "axis": {"format": "%Y/%-m/%-d", "labelOverlap": false, "labelFlush": false,
      "values": [{"year":2021,"month":1,"date":1},{"year":2021,"month":4,"date":1},{"year":2021,"month":7,"date":1},{"year":2021,"month":10,"date":1},{"year":2022,"month":1,"date":1},{"year":2022,"month":4,"date":1},{"year":2022,"month":7,"date":1},{"year":2022,"month":10,"date":1},{"year":2023,"month":1,"date":1},{"year":2023,"month":4,"date":1},{"year":2023,"month":7,"date":1},{"year":2023,"month":10,"date":1},{"year":2024,"month":1,"date":1},{"year":2024,"month":4,"date":1},{"year":2024,"month":7,"date":1},{"year":2024,"month":10,"date":1},{"year":2025,"month":1,"date":1},{"year":2025,"month":4,"date":1}]}},
  "y": {"field": "n", "type": "quantitative", "title": null, "scale": {"domain": [0, 200]}, "axis": {"values": [0, 50, 100, 150, 200]}}
 },
 "layer": [
  {"data": {"name": "ships"}, "transform": [{"filter": "datum.a === 'b'"}],
   "mark": {"type": "bar", "width": 1.6, "color": "#000"}},
  {"data": {"name": "marker"}, "mark": {"type": "rule", "strokeDash": [5, 3], "color": "#222", "strokeWidth": 1},
   "encoding": {"y2": {"datum": 0}}}
 ]}
],
"config": {
 "view": {"stroke": null},
 "font": "Noto Sans CJK JP",
 "title": {"font": "Noto Sans CJK JP", "fontSize": 27, "fontWeight": "bold", "color": "#000", "anchor": "middle", "frame": "group", "offset": 24, "dx": -19},
 "axisX": {"grid": false, "domainColor": "#8c8c8c", "tickColor": "#8c8c8c", "tickSize": 5, "labelAngle": -90, "labelFont": "Liberation Mono", "labelFontSize": 14, "labelColor": "#000", "labelPadding": 3, "labelOverlap": false},
 "axisY": {"grid": true, "gridColor": "#6e6e6e", "domain": false, "ticks": false, "labelFont": "DejaVu Sans Condensed", "labelFontSize": 19, "labelColor": "#000", "labelPadding": 16, "titleFont": "Noto Sans CJK JP", "titleFontSize": 23, "titleFontWeight": "bold", "titleColor": "#000", "titlePadding": 4}
}
}
